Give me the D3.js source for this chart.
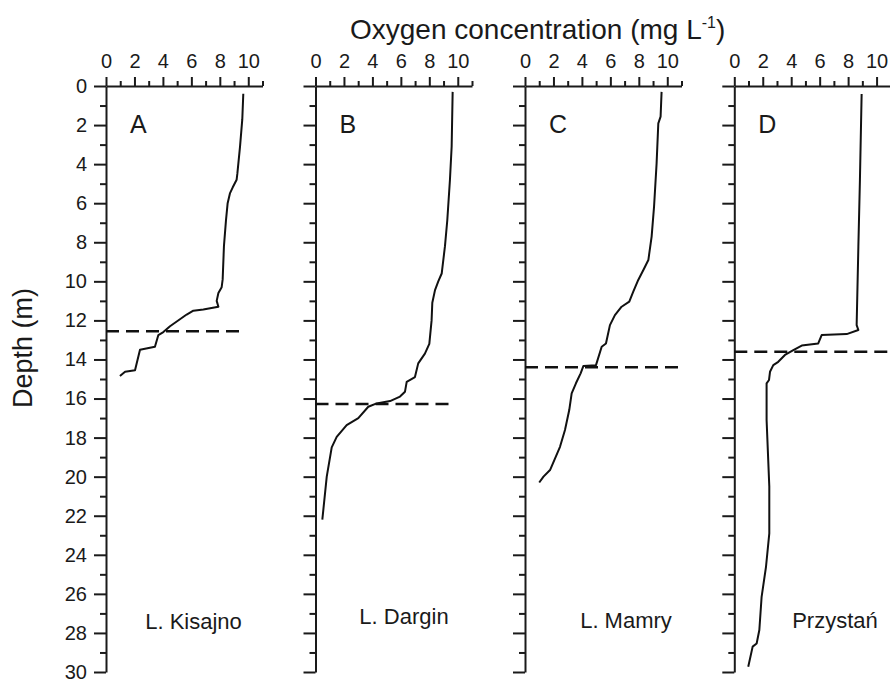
<!DOCTYPE html>
<html>
<head>
<meta charset="utf-8">
<script src="https://d3js.org/d3.v7.min.js"></script>
<style>
body { margin: 0; background: #fff; }
text { font-family: "Liberation Sans", Arial, sans-serif; fill: #1a1a1a; }
.axis path, .axis line { stroke: #1a1a1a; stroke-width: 2; }
.axis text { font-size: 20px; font-family: "Liberation Sans", Arial, sans-serif; fill: #1a1a1a; }
</style>
</head>
<body>
<div id="chart"></div>
<script>
// oxygen profiles (depth in m, oxygen in mg/L)
var depthKisajno = [0.4, 1.7, 3.1, 4.5, 4.8, 5.2, 5.5, 6.0, 6.9, 8.2, 9.9, 10.3, 10.6, 11.0, 11.3, 11.44, 11.5, 11.7, 12.3, 12.6, 12.75, 13.35, 13.5, 14.55, 14.63, 14.85];
var oxyKisajno   = [9.65, 9.58, 9.42, 9.23, 9.18, 8.9, 8.71, 8.55, 8.43, 8.29, 8.2, 8.13, 7.9, 7.78, 7.9, 6.84, 6.14, 5.67, 4.5, 4.03, 3.68, 3.44, 2.39, 2.04, 1.34, 0.98];

var depthDargin = [0.3, 3.1, 4.8, 6.9, 8.2, 9.6, 10.0, 10.45, 11.1, 12.0, 13.2, 13.7, 14.2, 14.9, 15.15, 15.65, 15.9, 16.13, 16.25, 16.42, 17.0, 17.36, 17.96, 18.5, 20.0, 22.2];
var oxyDargin   = [9.64, 9.57, 9.45, 9.26, 9.1, 8.87, 8.63, 8.4, 8.21, 8.16, 8.0, 7.69, 7.22, 6.99, 6.41, 6.29, 5.94, 5.24, 4.3, 3.71, 3.01, 2.19, 1.49, 1.14, 0.79, 0.48];

var depthMamry = [0.3, 1.57, 1.91, 3.96, 6.18, 7.71, 8.91, 9.42, 9.93, 10.53, 11.04, 11.3, 11.73, 12.24, 13.18, 13.35, 14.29, 14.34, 14.71, 15.22, 15.74, 16.59, 17.61, 18.47, 19.66, 20.0, 20.3];
var oxyMamry   = [9.6, 9.53, 9.37, 9.25, 9.07, 8.9, 8.67, 8.32, 7.96, 7.61, 7.33, 6.79, 6.32, 5.97, 5.69, 5.39, 4.99, 4.1, 3.91, 3.58, 3.28, 3.11, 2.81, 2.46, 1.76, 1.3, 1.0];

var depthPrzystan = [0.41, 4.81, 8.23, 12.24, 12.49, 12.7, 12.75, 13.18, 13.29, 13.52, 13.77, 14.12, 14.29, 14.63, 15.05, 15.22, 17.1, 20.51, 22.9, 24.6, 26.15, 27.85, 28.54, 28.7, 29.73];
var oxyPrzystan   = [8.95, 8.83, 8.72, 8.6, 8.72, 7.9, 6.14, 5.9, 4.74, 4.15, 3.56, 3.09, 2.74, 2.51, 2.44, 2.27, 2.27, 2.46, 2.46, 2.23, 1.92, 1.76, 1.57, 1.29, 0.98];

var lakeNames = ["L. Kisajno", "L. Dargin", "L. Mamry", "Przystań"];
var panelLetters = ["A", "B", "C", "D"];
// dashed line: depth of the line and how far (mg/L) it runs
var dashDepth = [12.55, 16.28, 14.4, 13.6];
var dashEnd = [9.6, 9.6, 10.8, 11];

var xMajorTicks = [0, 2, 4, 6, 8, 10];
var xMinorTicks = [1, 3, 5, 7, 9, 11];
var yMajorTicks = d3.range(0, 31, 2);
var yMinorTicks = d3.range(1, 30, 2);

var profiles = [
    {depth: depthKisajno, oxy: oxyKisajno},
    {depth: depthDargin, oxy: oxyDargin},
    {depth: depthMamry, oxy: oxyMamry},
    {depth: depthPrzystan, oxy: oxyPrzystan}
];

var svgWidth = 890;
var svgHeight = 679;
var panelTop = 86;
var panelLeft = [106, 315.5, 525, 734.3];
var panelWidth = 156.5;
var panelHeight = 586;
var nameOffset = [[87.5, 543], [88.5, 538], [101, 542], [100.7, 542]];

var svg = d3.select("#chart")
    .append("svg")
    .attr("width", svgWidth)
    .attr("height", svgHeight);

var x = d3.scaleLinear().domain([0, 11]).range([0, panelWidth]);
var y = d3.scaleLinear().domain([0, 30]).range([0, panelHeight]);

var line = d3.line()
    .x(d => x(d[1]))
    .y(d => y(d[0]));

profiles.forEach(function(p, i) {
    var g = svg.append("g")
        .attr("transform", `translate(${panelLeft[i]}, ${panelTop})`);

    // x axis on top: major with labels, minor without
    g.append("g")
        .attr("class", "axis")
        .call(d3.axisTop(x).tickValues(xMajorTicks).tickSize(9).tickSizeOuter(0).tickPadding(9));
    g.append("g")
        .attr("class", "axis")
        .call(d3.axisTop(x).tickValues(xMinorTicks).tickSize(5).tickFormat(""))
        .call(a => a.select(".domain").remove());

    // y axis, labels only on the first panel
    var leftAxis = d3.axisLeft(y).tickValues(yMajorTicks).tickSize(12).tickSizeOuter(0).tickPadding(7);
    if (i > 0) leftAxis.tickFormat("");
    g.append("g")
        .attr("class", "axis")
        .call(leftAxis);
    g.append("g")
        .attr("class", "axis")
        .call(d3.axisLeft(y).tickValues(yMinorTicks).tickSize(6).tickFormat(""))
        .call(a => a.select(".domain").remove());

    // profile
    var pts = p.depth.map((d, k) => [d, p.oxy[k]]);
    g.append("path")
        .datum(pts)
        .attr("d", line)
        .attr("fill", "none")
        .attr("stroke", "#111")
        .attr("stroke-width", 2)
        .attr("stroke-linejoin", "round");

    // dashed line
    g.append("path")
        .datum([[dashDepth[i], 0], [dashDepth[i], dashEnd[i]]])
        .attr("d", line)
        .attr("stroke", "#111")
        .attr("stroke-width", 2.5)
        .attr("stroke-dasharray", "13,7");

    g.append("text")
        .attr("x", 24)
        .attr("y", 47)
        .attr("font-size", 25)
        .text(panelLetters[i]);

    g.append("text")
        .attr("x", nameOffset[i][0])
        .attr("y", nameOffset[i][1])
        .attr("text-anchor", "middle")
        .attr("font-size", 22)
        .text(lakeNames[i]);
});

// titles
var title = svg.append("text")
    .attr("x", 350)
    .attr("y", 39)
    .attr("font-size", 28);
title.append("tspan").text("Oxygen concentration (mg L");
title.append("tspan").attr("font-size", 16).attr("dy", -11).text("-1");
title.append("tspan").attr("dy", 11).text(")");

svg.append("text")
    .attr("transform", "translate(32, 348) rotate(-90)")
    .attr("text-anchor", "middle")
    .attr("font-size", 27)
    .text("Depth (m)");
</script>
</body>
</html>
